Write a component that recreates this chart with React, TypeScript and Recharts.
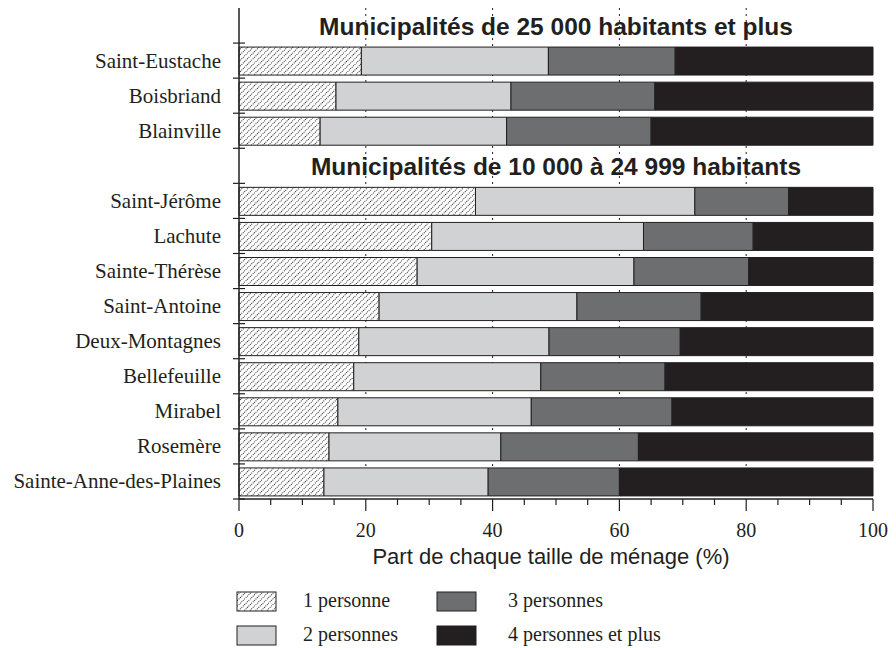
import React from "react";
import { Bar, BarChart, CartesianGrid, XAxis, YAxis } from "recharts";

const groupTitles = [
  "Municipalités de 25 000 habitants et plus",
  "Municipalités de 10 000 à 24 999 habitants",
];
const municipalites = [
  "Saint-Eustache", "Boisbriand", "Blainville",
  "Saint-Jérôme", "Lachute", "Sainte-Thérèse", "Saint-Antoine", "Deux-Montagnes",
  "Bellefeuille", "Mirabel", "Rosemère", "Sainte-Anne-des-Plaines",
];
const groupe = [0, 0, 0, 1, 1, 1, 1, 1, 1, 1, 1, 1];
const unePersonne = [19.3, 15.3, 12.8, 37.3, 30.4, 28.1, 22.1, 18.9, 18.1, 15.6, 14.2, 13.4];
const deuxPersonnes = [29.5, 27.6, 29.4, 34.6, 33.4, 34.2, 31.2, 30.0, 29.5, 30.5, 27.1, 25.9];
const troisPersonnes = [20.0, 22.7, 22.8, 14.8, 17.3, 18.1, 19.6, 20.7, 19.6, 22.2, 21.7, 20.7];
const quatreEtPlus = [31.2, 34.4, 35.0, 13.3, 18.9, 19.6, 27.1, 30.4, 32.8, 31.7, 37.0, 40.0];
const xTicks = [0, 5, 10, 15, 20, 25, 30, 35, 40, 45, 50, 55, 60, 65, 70, 75, 80, 85, 90, 95, 100];
const gridTicks = [20, 40, 60, 80];

const W = 896;
const H = 648;
const M_TOP = 8;
const M_RIGHT = 23;
const AXIS_W = 239;
const X_AXIS_H = 149;
const DARK = "#231f20";
const SERIF = "'Liberation Serif', 'Times New Roman', serif";
const SANS = "'Liberation Sans', Arial, sans-serif";

type Row = { name: string; header: boolean; p1?: number; p2?: number; p3?: number; p4?: number };

const rows: Row[] = [];
groupTitles.forEach((title, g) => {
  rows.push({ name: title, header: true });
  municipalites.forEach((m, i) => {
    if (groupe[i] !== g) return;
    rows.push({
      name: m,
      header: false,
      p1: unePersonne[i],
      p2: deuxPersonnes[i],
      p3: troisPersonnes[i],
      p4: quatreEtPlus[i],
    });
  });
});

const plotH = H - M_TOP - X_AXIS_H;
const band = plotH / rows.length;
const plotCenter = AXIS_W + (W - M_RIGHT - AXIS_W) / 2;

const series = [
  { key: "p1", label: "1 personne", fill: "url(#hatch)" },
  { key: "p2", label: "2 personnes", fill: "#d1d2d3" },
  { key: "p3", label: "3 personnes", fill: "#6d6e70" },
  { key: "p4", label: "4 personnes et plus", fill: DARK },
];

const YTick = (props: any) => {
  const { x, y, payload } = props;
  const row = rows.find((r) => r.name === payload.value);
  return (
    <g>
      <line x1={x - 6} x2={x + 6} y1={y + band / 2} y2={y + band / 2} stroke={DARK} strokeWidth={1.2} />
      {row && row.header ? (
        <text x={plotCenter} y={y} dy={9.5} textAnchor="middle" fontFamily={SANS} fontWeight="bold" fontSize={24.5} fill={DARK}>
          {payload.value}
        </text>
      ) : (
        <text x={x - 18} y={y} dy={7} textAnchor="end" fontFamily={SERIF} fontSize={21} fill={DARK}>
          {payload.value}
        </text>
      )}
    </g>
  );
};

const XTick = (props: any) => {
  const { x, y, payload } = props;
  const major = payload.value % 20 === 0;
  return (
    <g>
      <line x1={x} x2={x} y1={y} y2={y + (major ? 12 : 6)} stroke={DARK} strokeWidth={1.2} />
      {major && (
        <text x={x} y={y + 38} textAnchor="middle" fontFamily={SERIF} fontSize={20} fill={DARK}>
          {payload.value}
        </text>
      )}
    </g>
  );
};

const HatchDef = ({ id }: { id: string }) => (
  <pattern id={id} width={4} height={4} patternUnits="userSpaceOnUse" patternTransform="rotate(45)">
    <rect width={4} height={4} fill="#ffffff" />
    <line x1={0.5} y1={0} x2={0.5} y2={4} stroke="#2a2a2a" strokeWidth={1} strokeDasharray="1 1" />
  </pattern>
);

const legendPos = [
  { sx: 237, sy: 592, tx: 303, ty: 607 },
  { sx: 237, sy: 626, tx: 303, ty: 641 },
  { sx: 437, sy: 592, tx: 508, ty: 607 },
  { sx: 437, sy: 626, tx: 508, ty: 641 },
];

// grid only at the labelled ticks, through the axis scale
const gridCoords = (p: any) => {
  const scale = p?.xAxis?.scale;
  if (!scale) return [];
  const fn = typeof scale === "function" ? scale : scale.map ? (v: number) => scale.map(v) : null;
  if (!fn) return [];
  return gridTicks.map((v) => fn(v));
};

export default function App() {
  return (
    <div style={{ position: "absolute", left: 0, top: 0, width: W, height: H, background: "#fff" }}>
      <BarChart
        width={W}
        height={H}
        data={rows}
        layout="vertical"
        margin={{ top: M_TOP, right: M_RIGHT, left: 0, bottom: 0 }}
        barSize={28}
      >
        <defs>
          <HatchDef id="hatch" />
        </defs>
        <CartesianGrid
          horizontal={false}
          verticalCoordinatesGenerator={gridCoords}
          stroke="#222"
          strokeWidth={1}
          strokeDasharray="2 4"
        />
        <XAxis
          type="number"
          domain={[0, 100]}
          ticks={xTicks}
          interval={0}
          height={X_AXIS_H}
          tickLine={false}
          tickSize={0}
          tickMargin={0}
          tick={<XTick />}
          axisLine={{ stroke: DARK, strokeWidth: 1.5 }}
          label={{
            content: (p: any) => {
              const vb = p.viewBox;
              return (
                <text x={vb.x + vb.width / 2 - 5} y={vb.y + 65} textAnchor="middle" fontFamily={SANS} fontSize={22} fill={DARK}>
                  Part de chaque taille de ménage (%)
                </text>
              );
            },
          }}
        />
        <XAxis
          xAxisId="top"
          orientation="top"
          type="number"
          domain={[0, 100]}
          height={0}
          tick={false}
          tickLine={false}
          axisLine={{ stroke: DARK, strokeWidth: 1.2 }}
        />
        <YAxis
          type="category"
          dataKey="name"
          width={AXIS_W}
          interval={0}
          tickLine={false}
          tickSize={0}
          tickMargin={0}
          tick={<YTick />}
          axisLine={{ stroke: DARK, strokeWidth: 1.5 }}
        />
        <YAxis
          yAxisId="right"
          orientation="right"
          type="category"
          dataKey="name"
          width={0}
          tick={false}
          tickLine={false}
          axisLine={{ stroke: DARK, strokeWidth: 1.2 }}
        />
        {series.map((s) => (
          <Bar
            key={s.key}
            dataKey={s.key}
            name={s.label}
            stackId="a"
            fill={s.fill}
            stroke={DARK}
            strokeWidth={1}
            isAnimationActive={false}
          />
        ))}
      </BarChart>
      <svg width={W} height={H} style={{ position: "absolute", left: 0, top: 0, pointerEvents: "none" }}>
        <defs>
          <HatchDef id="hatchLegend" />
        </defs>
        {series.map((s, i) => (
          <g key={s.key}>
            <rect
              x={legendPos[i].sx}
              y={legendPos[i].sy}
              width={39}
              height={19}
              fill={i === 0 ? "url(#hatchLegend)" : s.fill}
              stroke={DARK}
              strokeWidth={1}
            />
            <text x={legendPos[i].tx} y={legendPos[i].ty} fontFamily={SERIF} fontSize={20} fill={DARK}>
              {s.label}
            </text>
          </g>
        ))}
      </svg>
    </div>
  );
}
